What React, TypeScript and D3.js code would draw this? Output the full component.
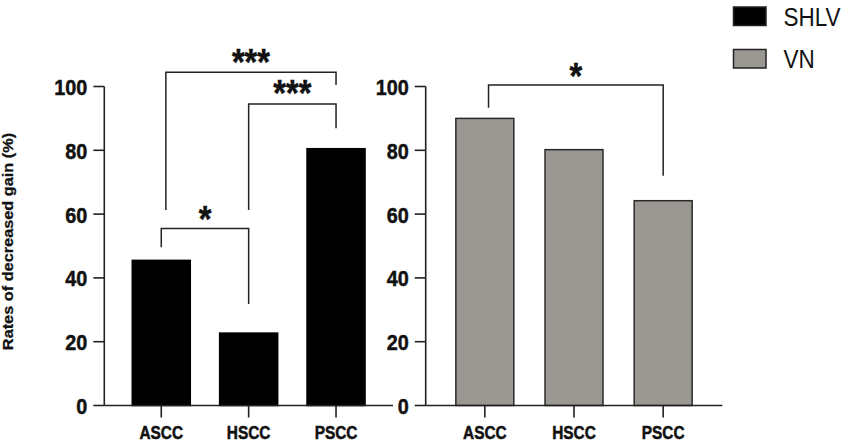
import React from "react";
import * as d3 from "d3";

const categories = ["ASCC", "HSCC", "PSCC"];
const shlvValues = [45.5, 22.7, 80.5];
const vnValues = [90.0, 80.2, 64.2];
const yTicks = [0, 20, 40, 60, 80, 100];
const seriesNames = ["SHLV", "VN"];
const yLabel = "Rates of decreased gain (%)";

// significance brackets: [from, to, top value, left leg end, right leg end, label]
const shlvBrackets = [
  { from: "ASCC", to: "HSCC", top: 55.5, leftEnd: 49.6, rightEnd: 31.8, label: "*", labelAt: 60.8 },
  { from: "ASCC", to: "PSCC", top: 104.5, leftEnd: 61.3, rightEnd: 100.5, label: "***", labelAt: 109.9 },
  { from: "HSCC", to: "PSCC", top: 94.5, leftEnd: 61.3, rightEnd: 86.9, label: "***", labelAt: 100.2 },
];
const vnBrackets = [
  { from: "ASCC", to: "PSCC", top: 100.5, leftEnd: 93.3, rightEnd: 72.0, label: "*", labelAt: 105.5 },
];

const FONT = "'Liberation Sans', Arial, Helvetica, sans-serif";
const SX = 0.88; // horizontal squeeze of the original image
const AX = "#222";

type Bracket = typeof shlvBrackets[number];

const boldText = { fontFamily: FONT, fontWeight: "bold" as const, fill: "#111", stroke: "#111", strokeWidth: 0.5 };

function Panel({
  values, x0, x1, fill, stroke, brackets, pi, po, nudge,
}: {
  values: number[]; x0: number; x1: number; fill: string; stroke: string;
  brackets: Bracket[]; pi: number; po: number; nudge: Record<string, number>;
}) {
  const y = d3.scaleLinear().domain([0, 100]).range([405.5, 86.5]);
  const x = d3.scaleBand<string>().domain(categories).range([x0, x1]).paddingInner(pi).paddingOuter(po);
  const cx = (c: string) => (x(c) as number) + x.bandwidth() / 2;
  return (
    <g>
      {values.map((v, i) => (
        <rect key={i} x={x(categories[i])} y={y(v)} width={x.bandwidth()} height={y(0) - y(v)}
          fill={fill} stroke={stroke} strokeWidth={1.5} />
      ))}
      {/* y axis */}
      <line x1={x0} x2={x0} y1={y(100)} y2={y(0)} stroke={AX} strokeWidth={1.6} />
      {yTicks.map((t) => (
        <g key={t}>
          <line x1={x0 - 11} x2={x0} y1={y(t)} y2={y(t)} stroke={AX} strokeWidth={1.6} />
          <text transform={`translate(${x0 - 17},${y(t) + 8.5}) scale(${SX},1)`} textAnchor="end"
            {...boldText} fontSize={22.5}>{t}</text>
        </g>
      ))}
      {/* x axis */}
      <line x1={x0} x2={x1} y1={y(0)} y2={y(0)} stroke={AX} strokeWidth={1.6} />
      {categories.map((c) => (
        <g key={c}>
          <line x1={cx(c)} x2={cx(c)} y1={y(0)} y2={y(0) + 12} stroke={AX} strokeWidth={1.6} />
          <text transform={`translate(${cx(c)},${y(0) + 33}) scale(${SX},1)`} textAnchor="middle"
            {...boldText} fontSize={17.5}>{c}</text>
        </g>
      ))}
      {brackets.map((b, i) => {
        const xa = cx(b.from) + (nudge[`${b.from}-${b.to}`] || 0);
        const xb = cx(b.to);
        const path = d3.path();
        path.moveTo(xa, y(b.leftEnd));
        path.lineTo(xa, y(b.top));
        path.lineTo(xb, y(b.top));
        path.lineTo(xb, y(b.rightEnd));
        return (
          <g key={i}>
            <path d={path.toString()} fill="none" stroke={AX} strokeWidth={1.5} />
            <text transform={`translate(${(xa + xb) / 2},${y(b.labelAt) + 20.5}) scale(${SX},1)`}
              textAnchor="middle" {...boldText} fontSize={37}>{b.label}</text>
          </g>
        );
      })}
    </g>
  );
}

export default function App() {
  const legendFill = ["#000000", "#9b9893"];
  const legendTop = [7, 49.5];
  return (
    <svg width={851} height={446} style={{ position: "absolute", left: 0, top: 0, background: "#fff" }}>
      <rect width={851} height={446} fill="#fff" />
      <text transform={`translate(12.5,241.5) scale(${SX},1) rotate(-90)`} textAnchor="middle"
        {...boldText} strokeWidth={0.3} fontSize={16.3}>{yLabel}</text>
      <Panel values={shlvValues} x0={104.3} x1={393} fill="#000" stroke="#000" brackets={shlvBrackets}
        pi={0.336} po={0.32} nudge={{ "ASCC-PSCC": 4.6 }} />
      <Panel values={vnValues} x0={425.7} x1={722.3} fill="#9b9893" stroke="#2a2a2a" brackets={vnBrackets}
        pi={0.35} po={0.338} nudge={{ "ASCC-PSCC": 3.7 }} />
      {seriesNames.map((s, i) => (
        <g key={s}>
          <rect x={733.5} y={legendTop[i]} width={32.5} height={18.5} fill={legendFill[i]} stroke="#222" strokeWidth={1.5} />
          <text transform={`translate(783.5,${legendTop[i] + 18.5}) scale(${SX},1)`} fontFamily={FONT}
            fontSize={25.5} fill="#111">{s}</text>
        </g>
      ))}
    </svg>
  );
}
